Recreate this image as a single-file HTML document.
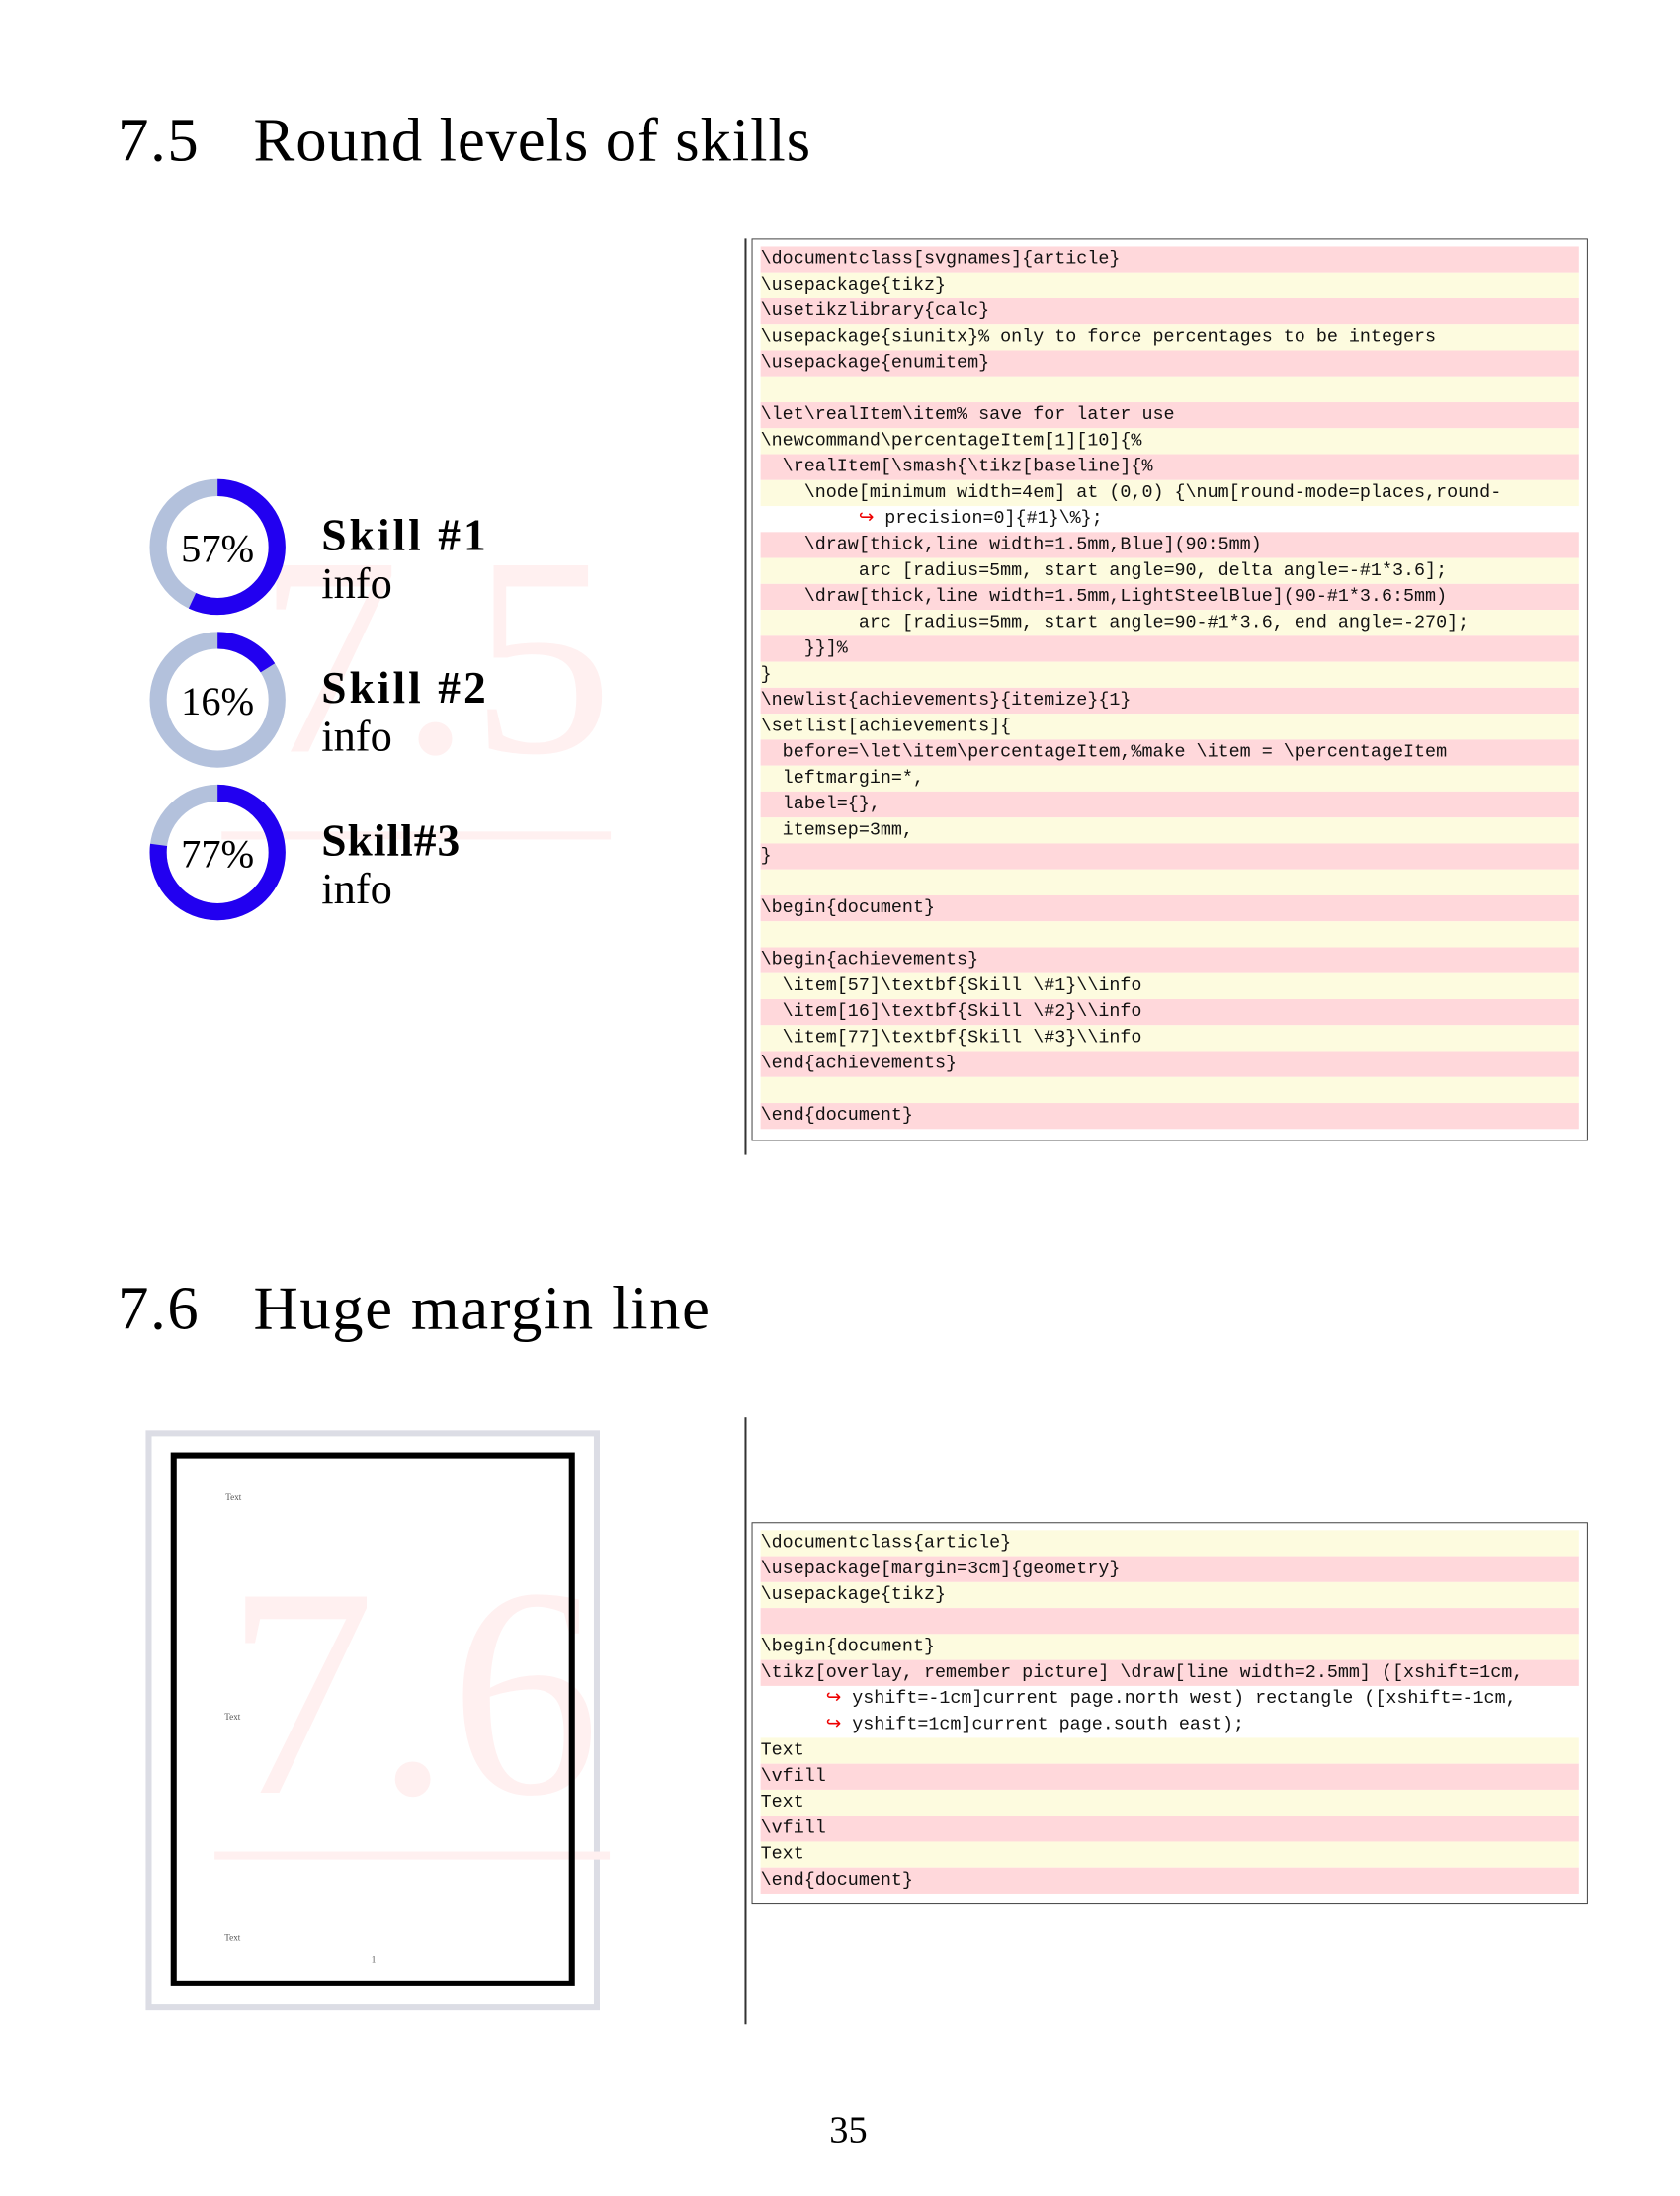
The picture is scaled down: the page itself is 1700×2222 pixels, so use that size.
<!DOCTYPE html>
<html><head><meta charset="utf-8"><style>
body{margin:0;width:1700px;height:2200px;background:#fff;position:relative;overflow:hidden;font-family:"Liberation Serif",serif}
#w{position:absolute;left:0;top:0;width:1700px;height:2200px;transform:scale(1.01);transform-origin:0 0}
.a{position:absolute}
.h{font-size:62px;white-space:nowrap;line-height:1;letter-spacing:1.6px}
.box{position:absolute;border:1.5px solid #444;background:#fff}
.row{position:absolute;left:8px;right:8px;height:26px;font-family:"Liberation Mono",monospace;font-size:18.2px;line-height:26px;white-space:pre;color:#111}
.p{background:#ffd8db}.y{background:#fdfbdf}
.ar{color:#e00}
.wm{color:#fff0f0;font-size:285px;line-height:1;white-space:nowrap}
.sk{font-size:44px;line-height:1;white-space:nowrap}
.b{font-weight:bold;letter-spacing:3px;font-size:45px}
</style></head><body><div id="w">
<div class="a h" style="left:118px;top:110px">7.5</div>
<div class="a h" style="left:254px;top:110px;letter-spacing:0.9px">Round levels of skills</div>

<div class="a wm" style="left:258px;top:515px">7.5</div>
<div class="a" style="left:222px;top:833px;width:390px;height:8px;background:#fff0f0"></div>

<svg class="a" style="left:0;top:0" width="700" height="1000">
<g fill="none" stroke-width="17">
<circle cx="218" cy="548" r="59.5" stroke="#b3c1dc"/>
<circle cx="218" cy="548" r="59.5" stroke="#2200f0" stroke-dasharray="213.1 400" transform="rotate(-90 218 548)"/>
<circle cx="218" cy="701" r="59.5" stroke="#b3c1dc"/>
<circle cx="218" cy="701" r="59.5" stroke="#2200f0" stroke-dasharray="59.8 400" transform="rotate(-90 218 701)"/>
<circle cx="218" cy="854" r="59.5" stroke="#b3c1dc"/>
<circle cx="218" cy="854" r="59.5" stroke="#2200f0" stroke-dasharray="287.9 400" transform="rotate(-90 218 854)"/>
</g>
<g font-family="Liberation Serif" font-size="40" text-anchor="middle">
<text x="218" y="563">57%</text><text x="218" y="716">16%</text><text x="218" y="869">77%</text>
</g>
</svg>
<div class="a sk b" style="left:322px;top:514px">Skill #1</div>
<div class="a sk" style="left:322px;top:563px">info</div>
<div class="a sk b" style="left:322px;top:667px">Skill #2</div>
<div class="a sk" style="left:322px;top:716px">info</div>
<div class="a sk b" style="left:322px;top:820px;letter-spacing:1px">Skill#3</div>
<div class="a sk" style="left:322px;top:869px">info</div>

<div class="a" style="left:746px;top:239px;width:1.5px;height:918px;background:#333"></div>
<div class="box" style="left:753px;top:239px;width:836px;height:902px">
<div class="row p" style="top:7px">\documentclass[svgnames]{article}</div>
<div class="row y" style="top:33px">\usepackage{tikz}</div>
<div class="row p" style="top:59px">\usetikzlibrary{calc}</div>
<div class="row y" style="top:85px">\usepackage{siunitx}% only to force percentages to be integers</div>
<div class="row p" style="top:111px">\usepackage{enumitem}</div>
<div class="row y" style="top:137px"></div>
<div class="row p" style="top:163px">\let\realItem\item% save for later use</div>
<div class="row y" style="top:189px">\newcommand\percentageItem[1][10]{%</div>
<div class="row p" style="top:215px">  \realItem[\smash{\tikz[baseline]{%</div>
<div class="row y" style="top:241px">    \node[minimum width=4em] at (0,0) {\num[round-mode=places,round-</div>
<div class="row" style="top:267px">         <span class="ar">↪</span> precision=0]{#1}\%};</div>
<div class="row p" style="top:293px">    \draw[thick,line width=1.5mm,Blue](90:5mm)</div>
<div class="row y" style="top:319px">         arc [radius=5mm, start angle=90, delta angle=-#1*3.6];</div>
<div class="row p" style="top:345px">    \draw[thick,line width=1.5mm,LightSteelBlue](90-#1*3.6:5mm)</div>
<div class="row y" style="top:371px">         arc [radius=5mm, start angle=90-#1*3.6, end angle=-270];</div>
<div class="row p" style="top:397px">    }}]%</div>
<div class="row y" style="top:423px">}</div>
<div class="row p" style="top:449px">\newlist{achievements}{itemize}{1}</div>
<div class="row y" style="top:475px">\setlist[achievements]{</div>
<div class="row p" style="top:501px">  before=\let\item\percentageItem,%make \item = \percentageItem</div>
<div class="row y" style="top:527px">  leftmargin=*,</div>
<div class="row p" style="top:553px">  label={},</div>
<div class="row y" style="top:579px">  itemsep=3mm,</div>
<div class="row p" style="top:605px">}</div>
<div class="row y" style="top:631px"></div>
<div class="row p" style="top:657px">\begin{document}</div>
<div class="row y" style="top:683px"></div>
<div class="row p" style="top:709px">\begin{achievements}</div>
<div class="row y" style="top:735px">  \item[57]\textbf{Skill \#1}\\info</div>
<div class="row p" style="top:761px">  \item[16]\textbf{Skill \#2}\\info</div>
<div class="row y" style="top:787px">  \item[77]\textbf{Skill \#3}\\info</div>
<div class="row p" style="top:813px">\end{achievements}</div>
<div class="row y" style="top:839px"></div>
<div class="row p" style="top:865px">\end{document}</div>
</div>

<div class="a h" style="left:118px;top:1280px">7.6</div>
<div class="a h" style="left:254px;top:1280px">Huge margin line</div>

<div class="a" style="left:146px;top:1433px;width:443px;height:569px;border:6px solid #dcdde5;background:#fff"></div>
<div class="a wm" style="left:226px;top:1545px;font-size:300px">7.6</div>
<div class="a" style="left:215px;top:1855px;width:396px;height:8px;background:#fff0f0"></div>
<div class="a" style="left:171px;top:1455px;width:393px;height:523px;border:6px solid #000"></div>
<div class="a" style="left:226px;top:1495px;font-size:9px;color:#555">Text</div>
<div class="a" style="left:225px;top:1715px;font-size:9px;color:#555">Text</div>
<div class="a" style="left:225px;top:1936px;font-size:9px;color:#555">Text</div>
<div class="a" style="left:372px;top:1958px;font-size:9px;color:#555">1</div>

<div class="a" style="left:746px;top:1420px;width:1.5px;height:608px;background:#333"></div>
<div class="box" style="left:753px;top:1525px;width:836px;height:381px">
<div class="row y" style="top:7px">\documentclass{article}</div>
<div class="row p" style="top:33px">\usepackage[margin=3cm]{geometry}</div>
<div class="row y" style="top:59px">\usepackage{tikz}</div>
<div class="row p" style="top:85px"></div>
<div class="row y" style="top:111px">\begin{document}</div>
<div class="row p" style="top:137px">\tikz[overlay, remember picture] \draw[line width=2.5mm] ([xshift=1cm,</div>
<div class="row" style="top:163px">      <span class="ar">↪</span> yshift=-1cm]current page.north west) rectangle ([xshift=-1cm,</div>
<div class="row" style="top:189px">      <span class="ar">↪</span> yshift=1cm]current page.south east);</div>
<div class="row y" style="top:215px">Text</div>
<div class="row p" style="top:241px">\vfill</div>
<div class="row y" style="top:267px">Text</div>
<div class="row p" style="top:293px">\vfill</div>
<div class="row y" style="top:319px">Text</div>
<div class="row p" style="top:345px">\end{document}</div>
</div>

<div class="a" style="left:0;width:1700px;text-align:center;top:2112px;font-size:38px">35</div>
</div></body></html>
